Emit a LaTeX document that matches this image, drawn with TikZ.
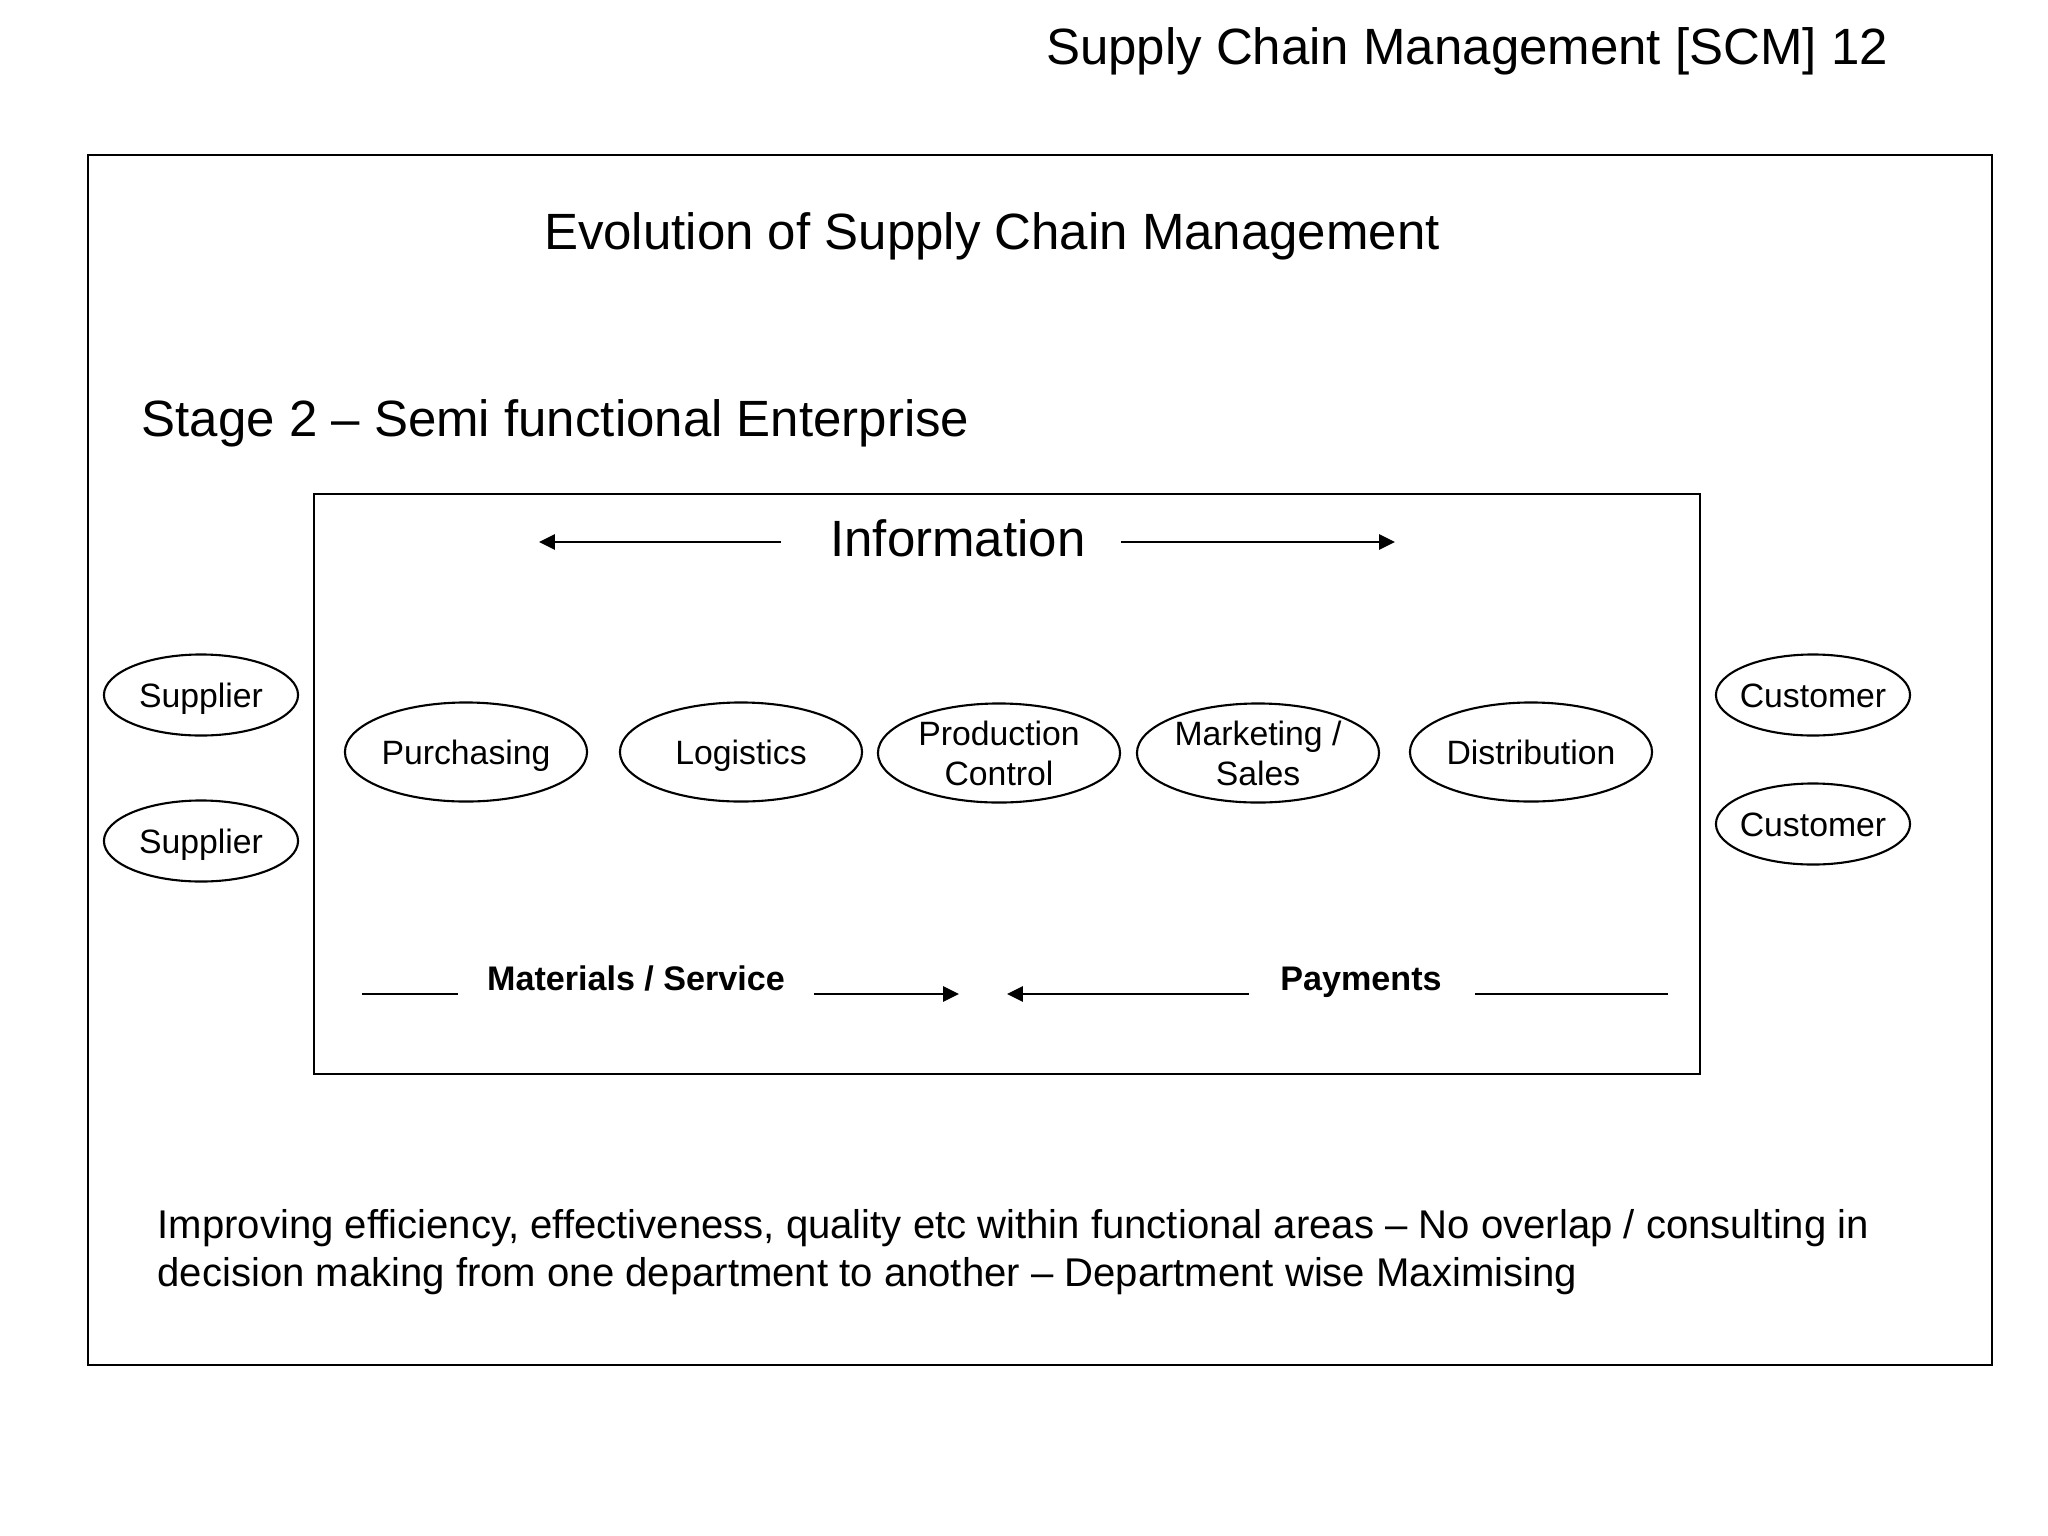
\documentclass[tikz,border=0pt]{standalone}
\usepackage{fontspec}
\setmainfont{Liberation Sans}
\usetikzlibrary{shapes.geometric,arrows.meta}

\tikzset{
  oneline/.style={text height=9.1pt,text depth=2.2pt},
  party/.style={ellipse,draw,line width=0.6pt,minimum width=1.94cm,minimum height=0.81cm,inner xsep=-2pt,inner ysep=0pt,oneline,font=\fontsize{9.6}{11.4}\selectfont},
  dept/.style={ellipse,draw,line width=0.6pt,minimum width=2.42cm,minimum height=0.99cm,inner sep=0pt,align=center,font=\fontsize{9.6}{11.4}\selectfont},
  bigtext/.style={inner sep=0pt,text height=13.8pt,text depth=3.3pt,font=\fontsize{14.5}{17}\selectfont},
  flowtext/.style={inner sep=0pt,text height=9.2pt,text depth=2.2pt,font=\fontsize{9.7}{11.6}\selectfont\bfseries},
  flow/.style={line width=0.6pt,-{Triangle[length=4.5pt,width=4.3pt]}},
}

\begin{document}
\begin{tikzpicture}[x=0.01cm,y=-0.01cm]
	\useasboundingbox (0,0) rectangle (2048,1536);
	
	% Frames
	\draw[line width=0.6pt] (88,155) rectangle (1992,1365);
	\draw[line width=0.6pt] (314,494) rectangle (1700,1074);
	
	% Headings
	\node[bigtext] (title) at (1467,46) {Supply Chain Management [SCM] 12};
	\node[bigtext] (evo) at (992,231) {Evolution of Supply Chain Management};
	\node[bigtext,anchor=west] (stage) at (141,418) {Stage 2 -- Semi functional Enterprise};
	
	% Information flow
	\node[bigtext] (info) at (958,538) {Information};
	\coordinate (il1) at (781,542);
	\coordinate (il2) at (539,542);
	\coordinate (ir1) at (1121,542);
	\coordinate (ir2) at (1395,542);
	\draw[flow] (il1) -- (il2);
	\draw[flow] (ir1) -- (ir2);
	
	% Suppliers and customers
	\node[party] (sup1) at (201,695) {Supplier};
	\node[party] (sup2) at (201,841) {Supplier};
	\node[party] (cus1) at (1813,695) {Customer};
	\node[party] (cus2) at (1813,824) {Customer};
	
	% Departments
	\node[dept,oneline] (purch) at (466,752) {Purchasing};
	\node[dept,oneline] (logi) at (741,752) {Logistics};
	\node[dept] (prod) at (999,753) {Production\\Control};
	\node[dept] (mark) at (1258,753) {Marketing /\\Sales};
	\node[dept,oneline] (dist) at (1531,752) {Distribution};
	
	% Materials and payments
	\node[flowtext] (mat) at (636,978) {Materials / Service};
	\node[flowtext] (pay) at (1361,978) {Payments};
	\coordinate (m1) at (362,994);
	\coordinate (m2) at (458,994);
	\coordinate (m3) at (814,994);
	\coordinate (m4) at (959,994);
	\coordinate (p1) at (1249,994);
	\coordinate (p2) at (1007,994);
	\coordinate (p3) at (1475,994);
	\coordinate (p4) at (1668,994);
	\draw[line width=0.6pt] (m1) -- (m2);
	\draw[flow] (m3) -- (m4);
	\draw[flow] (p1) -- (p2);
	\draw[line width=0.6pt] (p3) -- (p4);
	
	% Note
	\node[anchor=west,align=left,inner sep=0pt,font=\fontsize{11.4}{13.6}\selectfont] (note) at (157,1252)
	{Improving efficiency, effectiveness, quality etc within functional areas -- No overlap / consulting in\\
	 decision making from one department to another -- Department wise Maximising};
\end{tikzpicture}
\end{document}
